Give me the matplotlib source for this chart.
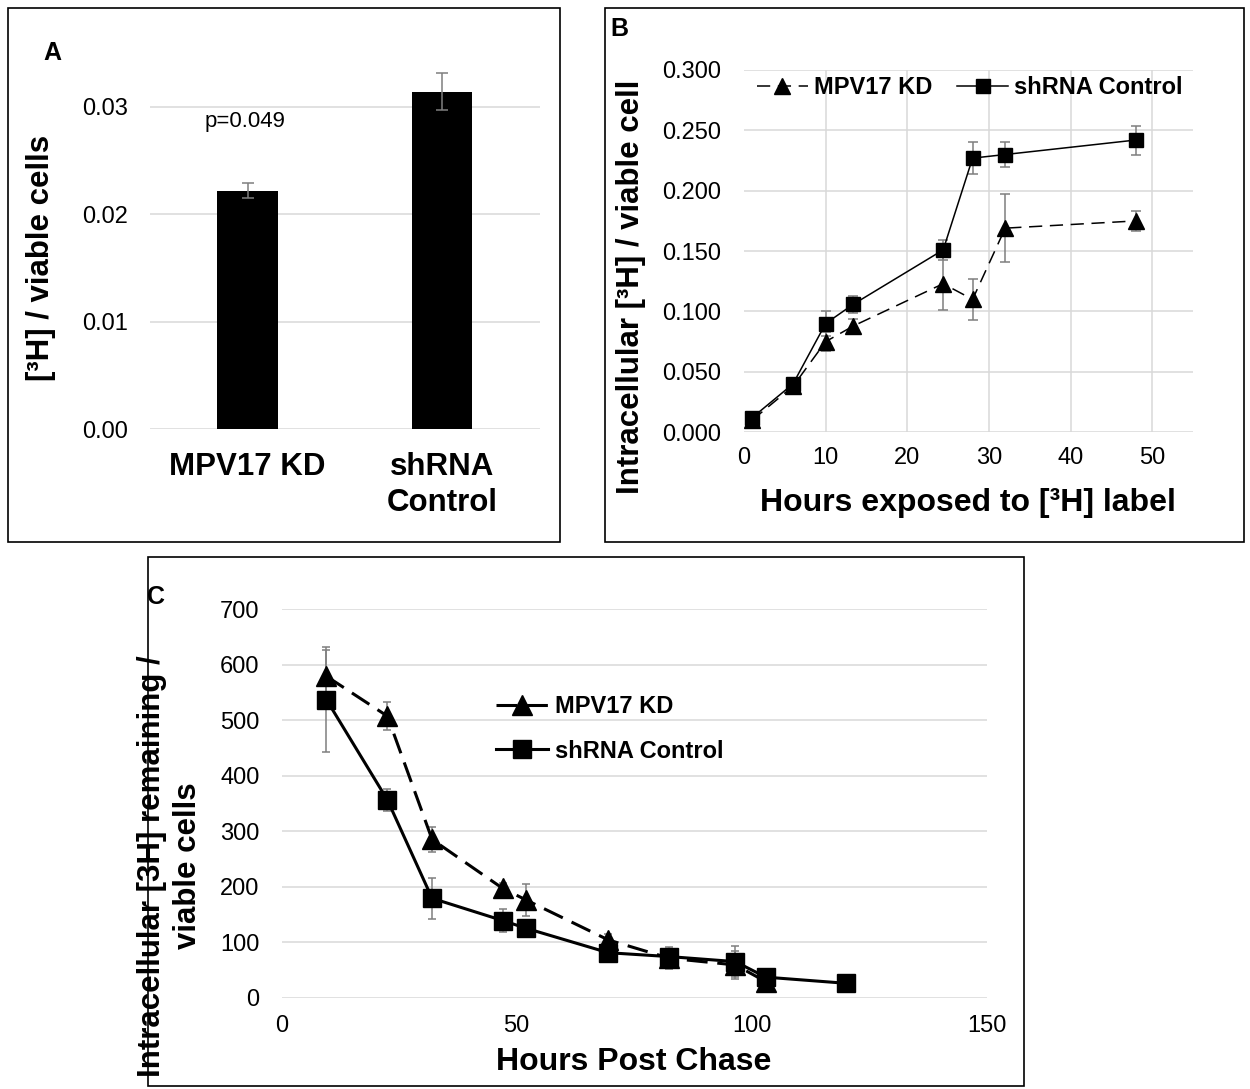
import matplotlib
matplotlib.use('Agg')
import matplotlib.pyplot as plt
from matplotlib.patches import Rectangle
from matplotlib.ticker import FixedLocator, FormatStrFormatter

plt.rcParams['font.family'] = ['Liberation Sans', 'DejaVu Sans']
plt.rcParams['lines.scale_dashes'] = False

# ---------------- data ----------------
# Panel A
a_categories = ['MPV17 KD', 'shRNA\nControl']
a_values = [0.0222, 0.0314]
a_errors = [0.0007, 0.0017]

# Panel B
b_hours = [1, 6, 10, 13.4, 24.4, 28, 32, 48]
b_kd = [0.010, 0.038, 0.075, 0.088, 0.123, 0.110, 0.169, 0.175]
b_kd_err = [0.002, 0.002, 0.008, 0.006, 0.022, 0.017, 0.028, 0.008]
b_ctrl = [0.012, 0.040, 0.090, 0.106, 0.151, 0.227, 0.230, 0.242]
b_ctrl_err = [0.002, 0.002, 0.010, 0.007, 0.008, 0.013, 0.010, 0.012]

# Panel C
c_hours_kd = [9.5, 22.5, 32, 47, 52, 69.5, 82.5, 96.5, 103]
c_kd = [579, 507, 285, 197, 176, 104, 71, 59, 29]
c_kd_err = [48, 25, 23, 10, 29, 10, 20, 25, 8]
c_hours_ctrl = [9.5, 22.5, 32, 47, 52, 69.5, 82.5, 96.5, 103, 120]
c_ctrl = [537, 356, 179, 139, 125, 81, 74, 65, 37, 26]
c_ctrl_err = [94, 20, 37, 20, 5, 5, 5, 28, 5, 3]

series_labels = ['MPV17 KD', 'shRNA Control']

# ---------------- figure ----------------
W, H, DPI = 1250, 1089, 100
fig = plt.figure(figsize=(W / DPI, H / DPI), dpi=DPI)
fig.patch.set_facecolor('white')


def px_axes(left, top, right, bottom):
    return fig.add_axes([left / W, 1 - bottom / H, (right - left) / W, (bottom - top) / H])


def fx(x):
    return x / W


def fy(y):
    return 1 - y / H


GRID = '#d9d9d9'
ECOL = '#7f7f7f'
TICK_FS = 17
LAB_FS = 22.5


def style_axes(ax, xpad, ypad):
    for s in ax.spines.values():
        s.set_visible(False)
    ax.tick_params(length=0, labelsize=TICK_FS)
    ax.tick_params(axis='x', pad=xpad)
    ax.tick_params(axis='y', pad=ypad)
    ax.set_axisbelow(True)


# panel borders
for (l, t, r, b) in [(8, 8, 560, 542), (605, 8, 1244, 542), (148, 557, 1024, 1086)]:
    fig.patches.append(Rectangle((fx(l), fy(b)), (r - l) / W, (b - t) / H,
                                 transform=fig.transFigure, fill=False,
                                 edgecolor='black', lw=1.2))

# ---------------- Panel A ----------------
axA = px_axes(150.1, 53, 539.7, 429.3)
style_axes(axA, 16.5, 15.6)
axA.bar(range(len(a_values)), a_values, width=0.31, color='black', zorder=2)
axA.errorbar(range(len(a_values)), a_values, yerr=a_errors, fmt='none',
             ecolor=ECOL, elinewidth=1.1, capsize=4, capthick=1.1, zorder=3)
axA.set_xlim(-0.5, 1.5)
axA.set_ylim(0, 0.035)
axA.yaxis.set_major_locator(FixedLocator([0, 0.01, 0.02, 0.03]))
axA.yaxis.set_major_formatter(FormatStrFormatter('%.2f'))
axA.set_xticks(range(len(a_categories)))
axA.set_xticklabels(a_categories, fontsize=LAB_FS, fontweight='bold', linespacing=1.25)
axA.grid(axis='y', color=GRID, lw=1.1)
fig.text(fx(52), fy(53), 'A', fontsize=18, fontweight='bold', ha='center', va='center')
fig.text(fx(245), fy(121), 'p=0.049', fontsize=16, ha='center', va='center')
fig.text(fx(41), fy(258), '[³H] / viable cells', fontsize=LAB_FS, fontweight='bold',
         rotation=90, ha='center', va='center')

# ---------------- Panel B ----------------
axB = px_axes(744, 70, 1193, 432.2)
style_axes(axB, 11, 16.8)
axB.errorbar(b_hours, b_kd, yerr=b_kd_err, fmt='none', ecolor=ECOL,
             elinewidth=1.1, capsize=3.5, capthick=1.1, zorder=2)
axB.errorbar(b_hours, b_ctrl, yerr=b_ctrl_err, fmt='none', ecolor=ECOL,
             elinewidth=1.1, capsize=3.5, capthick=1.1, zorder=2)
lb1, = axB.plot(b_hours, b_kd, color='black', lw=1.1, dashes=(9.5, 5.5),
                marker='^', ms=11.5, zorder=3)
lb2, = axB.plot(b_hours, b_ctrl, color='black', lw=1.1, marker='s', ms=10, zorder=4)
axB.set_xlim(0, 55)
axB.set_ylim(0, 0.3)
axB.xaxis.set_major_locator(FixedLocator([0, 10, 20, 30, 40, 50]))
axB.yaxis.set_major_locator(FixedLocator([0, 0.05, 0.1, 0.15, 0.2, 0.25, 0.3]))
axB.yaxis.set_major_formatter(FormatStrFormatter('%.3f'))
axB.grid(True, color=GRID, lw=1.1)
axB.xaxis.get_gridlines()[0].set_visible(False)
axB.legend([lb1, lb2], series_labels, ncol=2, loc='center left',
           bbox_to_anchor=(fx(756.7), fy(88)), bbox_transform=fig.transFigure,
           frameon=False, borderpad=0, borderaxespad=0, numpoints=1,
           handlelength=2.16, handletextpad=0.25, columnspacing=1.06,
           prop=dict(weight='bold', size=17))
fig.text(fx(619), fy(29), 'B', fontsize=18, fontweight='bold', ha='center', va='center')
fig.text(fx(631), fy(287), 'Intracellular [³H] / viable cell', fontsize=LAB_FS,
         fontweight='bold', rotation=90, ha='center', va='center')
fig.text(fx(968), fy(503), 'Hours exposed to [³H] label', fontsize=LAB_FS + 0.5,
         fontweight='bold', ha='center', va='center')

# ---------------- Panel C ----------------
axC = px_axes(281.7, 609, 986.7, 997.7)
style_axes(axC, 12.7, 16)
axC.errorbar(c_hours_kd, c_kd, yerr=c_kd_err, fmt='none', ecolor=ECOL,
             elinewidth=1.1, capsize=3, capthick=1.1, zorder=2)
axC.errorbar(c_hours_ctrl, c_ctrl, yerr=c_ctrl_err, fmt='none', ecolor=ECOL,
             elinewidth=1.1, capsize=3, capthick=1.1, zorder=2)
lc1, = axC.plot(c_hours_kd, c_kd, color='black', lw=2.2, dashes=(15, 7),
                marker='^', ms=14, zorder=3)
lc2, = axC.plot(c_hours_ctrl, c_ctrl, color='black', lw=2.2, marker='s', ms=12.5, zorder=4)
axC.set_xlim(0, 150)
axC.set_ylim(0, 700)
axC.xaxis.set_major_locator(FixedLocator([0, 50, 100, 150]))
axC.yaxis.set_major_locator(FixedLocator(list(range(0, 701, 100))))
axC.grid(axis='y', color=GRID, lw=1.1)
axC.legend([lc1, lc2], series_labels, loc='center left',
           bbox_to_anchor=(fx(496), fy(729)), bbox_transform=fig.transFigure,
           frameon=False, borderpad=0, borderaxespad=0, numpoints=1,
           handlelength=2.2, handletextpad=0.3, labelspacing=0.9,
           prop=dict(weight='bold', size=17))
fig.text(fx(156), fy(597), 'C', fontsize=18, fontweight='bold', ha='center', va='center')
fig.text(fx(170), fy(866), 'Intracellular [3H] remaining /\nviable cells', fontsize=LAB_FS,
         fontweight='bold', rotation=90, ha='center', va='center', linespacing=1.3)
fig.text(fx(634), fy(1062), 'Hours Post Chase', fontsize=LAB_FS + 0.5,
         fontweight='bold', ha='center', va='center')

fig.savefig('out.png', dpi=DPI, facecolor='white')
